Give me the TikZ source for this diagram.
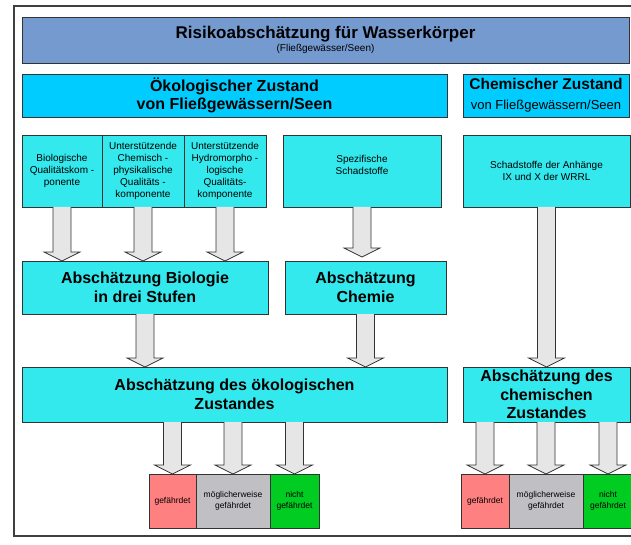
\documentclass[tikz,border=0pt]{standalone}
\usepackage{fontspec}
\setmainfont{Liberation Sans}
\usetikzlibrary{positioning, calc}

\definecolor{hdr}{RGB}{117,154,208}
\definecolor{cy}{RGB}{0,204,255}
\definecolor{tq}{RGB}{51,233,237}
\definecolor{rd}{RGB}{255,128,128}
\definecolor{gy}{RGB}{192,192,196}
\definecolor{gn}{RGB}{0,204,34}
\definecolor{ar}{RGB}{230,230,230}
\definecolor{ln}{HTML}{333333}

\newcommand{\setfs}[2]{\fontsize{#1}{#2}\selectfont}
% block arrow from #1 (top) down to #2 (tip)
\newcommand{\bigarrow}[2]{%
  \draw[bigarr] let \p1=(#1), \p2=(#2) in
    (\x1-9pt,\y1) -- (\x1-9pt,\y2+9pt) -- (\x1-18pt,\y2+9pt) -- (\x1,\y2)
    -- (\x1+18pt,\y2+9pt) -- (\x1+9pt,\y2+9pt) -- (\x1+9pt,\y1);}

\begin{document}
\begin{tikzpicture}[x=1pt, y=-1pt,
	box/.style={draw=ln, line width=0.8pt, outer sep=0pt, inner sep=1pt, align=center, anchor=north west},
	bigarr/.style={draw=ln, line width=0.7pt, fill=ar},
	big/.style={font=\setfs{16}{19}\bfseries},
	small/.style={font=\setfs{10}{12}},
	tiny/.style={font=\setfs{8.5}{11}}]
	\useasboundingbox (0,0) rectangle (631,545);
	\draw[black!75, line width=1.4pt] (650,6) -- (14,6) -- (14,536) -- (650,536);
	
	% head row
	\node[box, fill=hdr, minimum width=607, minimum height=46, font=\setfs{10}{13}] (head) at (22,17)
		{{\setfs{17}{20}\bfseries Risikoabschätzung für Wasserkörper}\\(Fließgewässer/Seen)};
	\node[box, fill=cy, minimum width=425, minimum height=43, font=\setfs{16}{18}\bfseries] (oekz) at (22,74)
		{Ökologischer Zustand\\von Fließgewässern/Seen};
	\node[box, fill=cy, minimum width=166, minimum height=43, font=\setfs{13}{20}] (chemz) at (463,74)
		{{\setfs{15.5}{20}\bfseries Chemischer Zustand}\\von Fließgewässern/Seen};
	
	% quality components
	\node[box, fill=tq, small, minimum width=80, minimum height=72] (k1) at (22,135)
		{Biologische\\Qualitätskom -\\ponente};
	\node[box, fill=tq, small, minimum width=82, minimum height=72, anchor=west, right=0pt of k1] (k2)
		{Unterstützende\\Chemisch -\\physikalische\\Qualitäts -\\komponente};
	\node[box, fill=tq, small, minimum width=82, minimum height=72, anchor=west, right=0pt of k2] (k3)
		{Unterstützende\\Hydromorpho -\\logische\\Qualitäts-\\komponente};
	\node[box, fill=tq, minimum width=158, minimum height=72] (spez) at (283,135) {};
	\node[small, align=center] (spezt) at ([yshift=6pt]spez.center) {Spezifische\\Schadstoffe};
	\node[box, fill=tq, small, minimum width=167, minimum height=72] (schad) at (463,135)
		{Schadstoffe der Anhänge\\IX und X der WRRL};
	
	% assessments
	\node[box, fill=tq, big, minimum width=246, minimum height=53] (bio) at (22,261)
		{Abschätzung Biologie\\in drei Stufen};
	\node[box, fill=tq, big, minimum width=161, minimum height=53] (chemie) at (285,261)
		{Abschätzung\\Chemie};
	\node[box, fill=tq, big, minimum width=425, minimum height=55] (oeko) at (22,367)
		{Abschätzung des ökologischen\\Zustandes};
	\node[box, fill=tq, big, minimum width=167, minimum height=55, font=\setfs{16}{18.5}\bfseries] (chemab) at (463,367)
		{Abschätzung des\\chemischen\\Zustandes};
	
	% results
	\node[box, fill=rd, tiny, minimum width=47, minimum height=54] (g1) at (149,474) {gefährdet};
	\node[box, fill=gy, tiny, minimum width=74, minimum height=54, anchor=west, right=0pt of g1] (g2) {möglicherweise\\gefährdet};
	\node[box, fill=gn, tiny, minimum width=49, minimum height=54, anchor=west, right=0pt of g2] (g3) {nicht\\gefährdet};
	\node[box, fill=rd, tiny, minimum width=48, minimum height=54] (r1) at (461,474) {gefährdet};
	\node[box, fill=gy, tiny, minimum width=74, minimum height=54, anchor=west, right=0pt of r1] (r2) {möglicherweise\\gefährdet};
	\node[box, fill=gn, tiny, minimum width=50, minimum height=54, anchor=west, right=0pt of r2] (r3) {nicht\\gefährdet};
	
	% arrows
	\foreach \k in {k1,k2,k3}
		\bigarrow{\k.south}{\k.south |- bio.north};
	\bigarrow{spez.south}{$(spez.south |- chemie.north)+(0,-4)$}
	\bigarrow{schad.south}{schad.south |- chemab.north}
	\bigarrow{bio.south}{bio.south |- oeko.north}
	\bigarrow{chemie.south}{chemie.south |- oeko.north}
	\foreach \g in {g1,g2,g3}
		\bigarrow{oeko.south -| \g}{\g.north};
	\foreach \r in {r1,r2,r3}
		\bigarrow{chemab.south -| \r}{\r.north};
\end{tikzpicture}
\end{document}
